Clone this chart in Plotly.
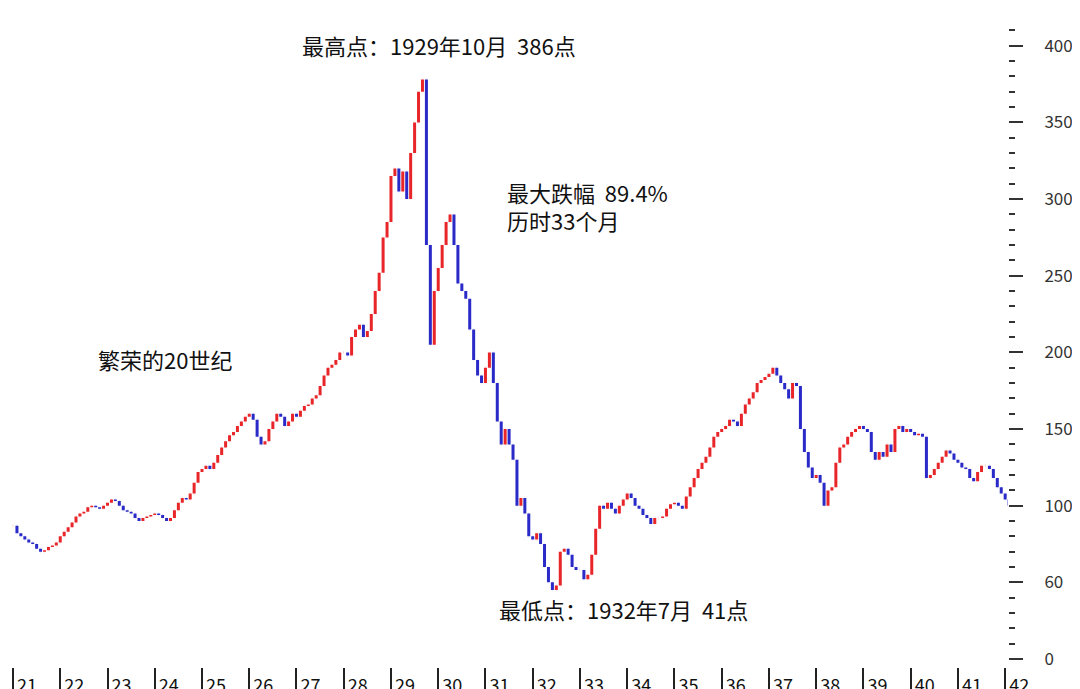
import plotly.graph_objects as go

start_year = 1921
closes = [
 87,82,80,78,76,75,72,70,71,73,74,76,
 80,83,86,89,93,95,96,99,100,99,98,100,
 102,104,103,100,97,96,95,92,90,92,93,94,
 95,94,92,90,92,97,102,105,104,108,115,122,
 124,126,124,128,133,138,142,146,148,152,155,158,
 160,156,145,140,142,150,155,160,158,152,155,160,
 158,162,165,166,170,172,178,185,190,192,195,200,
 200,198,210,215,218,210,214,225,240,252,275,285,
 315,320,305,318,300,330,350,370,378,270,205,240,
 255,270,285,290,270,245,240,235,215,195,185,180,
 190,200,180,155,140,150,140,130,100,105,95,80,
 78,82,75,60,50,45,48,70,72,68,60,58,
 58,52,55,68,85,100,98,102,98,95,100,104,
 108,105,100,98,94,92,88,92,92,93,98,101,
 102,100,98,106,112,118,124,128,132,138,145,148,
 150,152,156,155,152,160,166,170,174,180,182,184,
 186,190,185,180,176,170,180,178,150,135,125,118,
 120,115,100,110,112,128,138,140,145,148,150,152,
 150,148,135,130,135,132,140,135,150,152,148,150,
 148,146,147,145,118,120,124,128,132,136,134,130,
 128,125,124,118,116,122,126,126,124,118,112,108,
 104,100]
year_labels = [str(y)[2:] for y in range(1921, 1943)]
ytick_vals = [0, 50, 100, 150, 200, 250, 300, 350, 400]
ytick_text = ["0", "60", "100", "150", "200", "250", "300", "350", "400"]

x = [start_year + i / 12 for i in range(len(closes))]
opens = [closes[0]] + closes[:-1]
highs = [max(o, c) for o, c in zip(opens, closes)]
lows = [min(o, c) for o, c in zip(opens, closes)]

fig = go.Figure(go.Ohlc(x=x, open=opens, high=highs, low=lows, close=closes,
    increasing=dict(line=dict(color="#e8262a", width=3)),
    decreasing=dict(line=dict(color="#2a2ac8", width=3)), tickwidth=0.02))

font = "Noto Sans CJK SC"
fig.update_layout(
    width=1080, height=689, paper_bgcolor="white", plot_bgcolor="white",
    margin=dict(l=0, r=80, t=12, b=26), showlegend=False,
    xaxis=dict(range=[1920.894, 1942.06], rangeslider=dict(visible=False),
               tickvals=list(range(1921, 1943)), ticktext=year_labels,
               ticks="outside", ticklen=22, tickwidth=2, tickcolor="#222",
               ticklabelshift=14, ticklabelstandoff=-20, showgrid=False,
               zeroline=False, showline=False,
               tickfont=dict(family=font, size=18, color="#111")),
    yaxis=dict(side="right", range=[-5.2, 416.8], tickvals=ytick_vals,
               ticktext=ytick_text, ticks="outside", ticklen=14, tickwidth=2,
               tickcolor="#333", showgrid=False, zeroline=False, showline=False,
               ticklabelstandoff=18,
               minor=dict(dtick=10, ticks="outside", ticklen=6, tickcolor="#333", tickwidth=2),
               tickfont=dict(family=font, size=17, color="#333")),
)

def ann(text, xp, yp):
    fig.add_annotation(text=text, xref="paper", yref="paper", x=xp / 1000, y=1 - (yp - 12) / 651,
                       xanchor="left", yanchor="middle", showarrow=False, align="left",
                       font=dict(family=font, size=22, color="#111"))

ann("最高点：1929年10月  386点", 292, 37)
ann("最大跌幅  89.4%", 497, 185)
ann("历时33个月", 497, 213)
ann("繁荣的20世纪", 88, 353)
ann("最低点：1932年7月  41点", 489, 605)

fig.write_html("out.html")
